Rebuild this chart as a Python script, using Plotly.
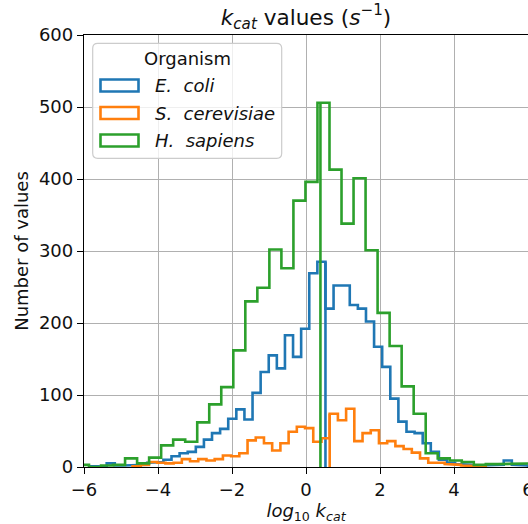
import numpy as np
import plotly.graph_objects as go

# ---------------- data ----------------
SERIES = ["E. coli", "S. cerevisiae", "H. sapiens"]
COLORS = ["#1f77b4", "#ff7f0e", "#2ca02c"]

# E. coli: bin start, bin width, counts, and the x where the outline drops to 0
ECOLI_START = -5.825
ECOLI_WIDTH = 0.219
ECOLI_COUNTS = [1, 0, 5, 2, 2, 3, 3, 6, 7, 10, 15, 19, 21, 28, 38, 47, 53, 67, 80, 66,
                103, 132, 155, 137, 183, 153, 192, 269, 285, 220, 252, 252, 225, 220,
                202, 167, 139, 95, 63, 49, 47, 33, 21, 10, 6, 4, 3, 2, 2, 3, 3, 9, 3, 2, 1]
ECOLI_SPLIT = 0.526

# S. cerevisiae
SCER_START = -4.688
SCER_WIDTH = 0.222
SCER_COUNTS = [1, 3, 7, 6, 5, 6, 11, 8, 11, 9, 11, 16, 15, 19, 37, 41, 33, 23, 33, 49,
               56, 54, 35, 40, 74, 65, 81, 36, 47, 51, 33, 36, 29, 25, 20, 12, 6, 6, 4,
               3, 2, 1, 1]
SCER_SPLIT = 0.64

# H. sapiens
HSAP_START = -6.19
HSAP_WIDTH = 0.325
HSAP_COUNTS = [3, 0, 2, 3, 12, 5, 13, 30, 38, 35, 62, 87, 111, 162, 230, 249, 302, 276,
               370, 396, 506, 413, 338, 401, 301, 214, 168, 112, 74, 19, 12, 9, 7, 3, 4,
               4, 5, 5]
HSAP_SPLIT = 0.39

X_TICKS = [-6, -4, -2, 0, 2, 4, 6]
Y_TICKS = [0, 100, 200, 300, 400, 500, 600]

# ---------------- layout constants ----------------
W, H = 528, 524
ML, MR, MT, MB = 84, 0, 35, 57
PW, PH = W - ML - MR, H - MT - MB
FONT = "DejaVu Sans"
TXT = "#111111"


def step_outline(start, width, counts, split):
    edges = start + width * np.arange(len(counts) + 1)
    xs, ys = [edges[0]], [0]
    for i, c in enumerate(counts):
        xs += [edges[i], edges[i + 1]]
        ys += [c, c]
    xs.append(edges[-1]); ys.append(0)
    # vertical drop to zero at the split position
    touching = [c for i, c in enumerate(counts)
                if edges[i] - 1e-6 <= split <= edges[i + 1] + 1e-6]
    h = max(touching)
    xs += [None, split, split]
    ys += [None, 0, h]
    return xs, ys


fig = go.Figure()
specs = [
    (ECOLI_START, ECOLI_WIDTH, ECOLI_COUNTS, ECOLI_SPLIT),
    (SCER_START, SCER_WIDTH, SCER_COUNTS, SCER_SPLIT),
    (HSAP_START, HSAP_WIDTH, HSAP_COUNTS, HSAP_SPLIT),
]
for name, col, (s, w, c, sp) in zip(SERIES, COLORS, specs):
    xs, ys = step_outline(s, w, c, sp)
    fig.add_trace(go.Scatter(x=xs, y=ys, mode="lines", name=name,
                             line=dict(color=col, width=2.6),
                             connectgaps=False, showlegend=False,
                             hoverinfo="skip"))


def px2paper(px, py):
    return (px - ML) / PW, (H - MB - py) / PH


# ---------------- manual legend (matplotlib style) ----------------
shapes = []
annotations = []
bx0, by0 = px2paper(92.7, 158.3)
bx1, by1 = px2paper(281.7, 43.3)
rx, ry = 5 / PW, 5 / PH
path = (f"M {bx0+rx},{by0} L {bx1-rx},{by0} Q {bx1},{by0} {bx1},{by0+ry} "
        f"L {bx1},{by1-ry} Q {bx1},{by1} {bx1-rx},{by1} L {bx0+rx},{by1} "
        f"Q {bx0},{by1} {bx0},{by1-ry} L {bx0},{by0+ry} Q {bx0},{by0} {bx0+rx},{by0} Z")
shapes.append(dict(type="path", xref="paper", yref="paper", path=path,
                   fillcolor="rgba(255,255,255,0.8)",
                   line=dict(color="#cccccc", width=1.2), layer="above"))
tx, ty = px2paper(187.2, 58.5)
annotations.append(dict(text="Organism", x=tx, y=ty, xref="paper", yref="paper",
                        showarrow=False, xanchor="center", yanchor="middle",
                        font=dict(family=FONT, size=18, color=TXT)))
labels = ["<i>E.\u00a0\u00a0coli</i>", "<i>S.\u00a0\u00a0cerevisiae</i>",
          "<i>H.\u00a0\u00a0sapiens</i>"]
centers = [85.5, 113.0, 140.5]
for lab, col, cy in zip(labels, COLORS, centers):
    x0, y0 = px2paper(100.5, cy + 6)
    x1, y1 = px2paper(138.5, cy - 6)
    shapes.append(dict(type="rect", xref="paper", yref="paper",
                       x0=x0, x1=x1, y0=y0, y1=y1,
                       fillcolor="rgba(255,255,255,0)",
                       line=dict(color=col, width=2.6), layer="above"))
    lx, ly = px2paper(153.0, cy)
    annotations.append(dict(text=lab, x=lx, y=ly, xref="paper", yref="paper",
                            showarrow=False, xanchor="left", yanchor="middle",
                            font=dict(family=FONT, size=18, color=TXT)))

axis_common = dict(
    showline=True, linecolor="#000000", linewidth=1.3,
    ticks="outside", ticklen=6, tickwidth=1.3, tickcolor="#000000",
    showgrid=True, gridcolor="#b0b0b0", gridwidth=1.2,
    zeroline=False, automargin=False, layer="below traces",
    ticklabeloverflow="allow",
    tickfont=dict(family=FONT, size=18, color=TXT),
)

fig.update_layout(
    width=W, height=H,
    margin=dict(l=ML, r=MR, t=MT, b=MB, pad=0),
    paper_bgcolor="white", plot_bgcolor="white",
    font=dict(family=FONT, size=18, color=TXT),
    title=dict(text="<i>k</i><sub><i>cat</i></sub> values (<i>s</i><sup>\u22121</sup>)",
               x=(ML + PW / 2) / W, xanchor="center",
               y=1 - 17 / H, yanchor="middle", yref="container",
               font=dict(family=FONT, size=21.6, color=TXT)),
    xaxis=dict(range=[-6, 6], tickvals=X_TICKS, mirror=True,
               title=dict(text="<i>log</i><sub>10</sub> <i>k</i><sub><i>cat</i></sub>",
                          font=dict(family=FONT, size=18, color=TXT), standoff=6),
               **axis_common),
    yaxis=dict(range=[0, 600], tickvals=Y_TICKS,
               title=dict(text="Number of values",
                          font=dict(family=FONT, size=18, color=TXT), standoff=5),
               **axis_common),
    shapes=shapes, annotations=annotations,
    showlegend=False,
)

fig.write_html("out.html")
